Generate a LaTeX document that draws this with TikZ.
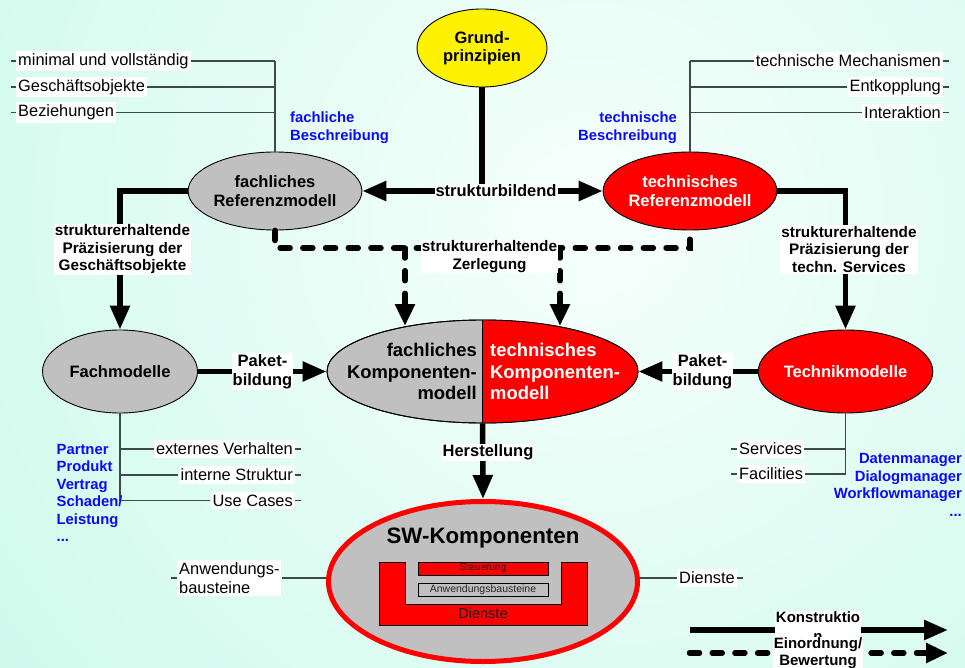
\documentclass[tikz,border=0pt]{standalone}
\usepackage{fontspec}
\setmainfont{Liberation Sans}
\usetikzlibrary{positioning,arrows.meta,shapes.geometric}

\definecolor{bgout}{RGB}{172,246,222}
\definecolor{bgin}{RGB}{246,255,252}
\definecolor{modgray}{RGB}{192,192,192}
\definecolor{linegray}{RGB}{62,74,72}
\definecolor{descblue}{RGB}{10,10,255}

\begin{document}
\begin{tikzpicture}[x=1pt, y=-1pt,
    model/.style={ellipse, draw=black, line width=0.9pt, fill=modgray, inner sep=0pt, align=center, font=\fontsize{16.5}{18.5}\selectfont\bfseries},
    techmodel/.style={model, fill=red, text=white},
    lbl/.style={fill=white, inner sep=1pt, align=center, font=\fontsize{16.5}{19}\selectfont\bfseries},
    lblsm/.style={fill=white, inner sep=1pt, align=center, font=\fontsize{15.3}{17.5}\selectfont\bfseries},
    leaf/.style={fill=white, inner xsep=2pt, inner ysep=2.5pt, align=left, font=\fontsize{16.4}{19}\selectfont},
    desc/.style={inner sep=0pt, text=descblue, font=\fontsize{14.8}{17.5}\selectfont\bfseries},
    thinline/.style={draw=linegray, line width=1.3pt},
    thickline/.style={line width=5.5pt},
    arrow/.style={thickline, -{Triangle[length=24pt, width=19pt]}},
    biarrow/.style={thickline, {Triangle[length=24pt, width=19pt]}-{Triangle[length=24pt, width=19pt]}},
    dashline/.style={thickline, line cap=round, dash pattern=on 10pt off 12.7pt},
    dasharrow/.style={dashline, -{Triangle[length=22pt, width=19pt]}},
]

\useasboundingbox (0,0) rectangle (965,668);

% background
\begin{scope}
  \clip (0,0) rectangle (965,668);
  \shade[inner color=bgin, outer color=bgout] (590,220) circle (1400);
\end{scope}

% === models ===
\node[model, fill=yellow, minimum width=130pt, minimum height=78pt] (grund) at (482,48) {Grund-\\prinzipien};
\node[model, minimum width=156pt, minimum height=78pt] (fachRef) at (275,191) {fachliches\\Referenzmodell};
\node[techmodel, minimum width=156pt, minimum height=78pt] (techRef) at (690,191) {technisches\\Referenzmodell};
\node[model, minimum width=155pt, minimum height=83pt] (fachMod) at (120,371.5) {Fachmodelle};
\node[techmodel, minimum width=155pt, minimum height=83pt] (techMod) at (845.5,371.5) {Technikmodelle};

% component model, left half grey, right half red
\node[model, minimum width=311pt, minimum height=103pt] (komp) at (482.5,371.5) {};
\begin{scope}
  \clip (komp.north) rectangle (700,440);
  \fill[red] (komp.center) ellipse [x radius=155.5, y radius=51.5];
\end{scope}
\draw[line width=0.9pt] (komp.center) ellipse [x radius=155.5, y radius=51.5];
\draw[line width=0.9pt] (komp.center |- 0,320) -- (komp.center |- 0,423);
\node[anchor=east, inner sep=0pt, align=right, font=\fontsize{18.4}{21.5}\selectfont\bfseries] (kompF) at (477,371.5) {fachliches\\Komponenten-\\modell};
\node[anchor=west, inner sep=0pt, align=left, text=white, font=\fontsize{18.4}{21.5}\selectfont\bfseries] (kompT) at (490,371.5) {technisches\\Komponenten-\\modell};

% SW components
\node[ellipse, draw=red, line width=5pt, fill=modgray, inner sep=0pt, minimum width=309pt, minimum height=160pt] (sw) at (483,581.5) {};
\node[font=\fontsize{22.3}{26}\selectfont\bfseries] (swTitle) at (483,538) {SW-Komponenten};
\draw[fill=red, line width=0.9pt] (379,562) -- (405,562) -- (405,604) -- (561,604) -- (561,562)
    -- (587,562) -- (587,625) -- (379,625) -- cycle;
\node[draw, line width=0.9pt, fill=red, minimum width=130pt, minimum height=13pt, inner sep=0pt,
    text=black!90, font=\fontsize{10}{11}\selectfont] (steu) at (483,568.5) {Steuerung};
\node[draw, line width=0.9pt, fill=modgray, minimum width=130pt, minimum height=13pt, inner sep=0pt,
    text=black!85, font=\fontsize{10.5}{11}\selectfont] (anwB) at (483,589.5) {Anwendungsbausteine};
\node[font=\fontsize{14.5}{16}\selectfont, text=black!90] (dienU) at (483,613) {Dienste};

% === leaf lists ===
\node[leaf, anchor=west] (mini)  at (16,61)   {minimal und vollständig};
\node[leaf, anchor=west] (gesch) at (16,87)   {Geschäftsobjekte};
\node[leaf, anchor=west] (bez)   at (16,112.5) {Beziehungen};
\draw[thinline] (fachRef.north) -- (fachRef.north |- mini.east);
\foreach \n in {mini,gesch,bez} {
  \draw[thinline] (\n.east) -- (\n.east -| fachRef.north);
  \draw[thinline] (\n.west) -- ++(-5.5,0);
}

\node[leaf, anchor=east] (mech)  at (943,61)   {technische Mechanismen};
\node[leaf, anchor=east] (entk)  at (943,87)   {Entkopplung};
\node[leaf, anchor=east] (inter) at (943,112.5) {Interaktion};
\draw[thinline] (techRef.north) -- (techRef.north |- mech.west);
\foreach \n in {mech,entk,inter} {
  \draw[thinline] (\n.west) -- (\n.west -| techRef.north);
  \draw[thinline] (\n.east) -- ++(6,0);
}

\node[leaf, anchor=east] (ext)  at (295,449)   {externes Verhalten};
\node[leaf, anchor=east] (intS) at (295,475)   {interne Struktur};
\node[leaf, anchor=east] (useC) at (295,500.5) {Use Cases};
\draw[thinline] (fachMod.south) -- (fachMod.south |- useC.west);
\foreach \n in {ext,intS,useC} {
  \draw[thinline] (\n.west) -- (\n.west -| fachMod.south);
  \draw[thinline] (\n.east) -- ++(6,0);
}

\node[leaf, anchor=west] (serv) at (737,449) {Services};
\node[leaf, anchor=west] (faci) at (737,474) {Facilities};
\draw[thinline] (techMod.south) -- (techMod.south |- faci.east);
\foreach \n in {serv,faci} {
  \draw[thinline] (\n.east) -- (\n.east -| techMod.south);
  \draw[thinline] (\n.west) -- ++(-6,0);
}

\node[leaf, anchor=west] (anw) at (177,578) {Anwendungs-\\bausteine};
\node[leaf, anchor=west] (dien) at (677,578) {Dienste};
\draw[thinline] (anw.east) -- (anw.east -| sw.west);
\draw[thinline] (anw.west) -- ++(-6,0);
\draw[thinline] (dien.west) -- (dien.west -| sw.east);
\draw[thinline] (dien.east) -- ++(6,0);

% blue descriptions
\node[desc, anchor=west, align=left]  (fachBes) at (290,127.7) {fachliche\\Beschreibung};
\node[desc, anchor=east, align=right] (techBes) at (677,127.7) {technische\\Beschreibung};
\node[desc, anchor=west, align=left]  (fachBsp) at (56.5,493) {Partner\\Produkt\\Vertrag\\Schaden/\\Leistung\\...};
\node[desc, anchor=east, align=right] (techBsp) at (962,484.7) {Datenmanager\\Dialogmanager\\Workflowmanager\\...};

% === construction arrows ===
\draw[thickline] (grund.south) -- (grund.south |- fachRef.east);
\draw[biarrow] (fachRef.east) -- (techRef.west);
\draw[arrow] (fachRef.west) -| (fachMod.north);
\draw[arrow] (techRef.east) -| (techMod.north);
\draw[arrow] (fachMod.east) -- (komp.west);
\draw[arrow] (techMod.west) -- (komp.east);
\draw[arrow] (komp.south) -- (sw.north);

% === decomposition (dashed) ===
\coordinate (zl) at (405,248);
\coordinate (zr) at (560,248);
\coordinate (kl) at (405,326);
\coordinate (kr) at (560,326);
\draw[dashline] (fachRef.south) |- (zl) -- (zr) -| (techRef.south);
\draw[dasharrow] (zl) -- (kl);
\draw[dasharrow] (zr) -- (kr);

% === arrow labels ===
\node[lbl] (sb) at (496,191) {strukturbildend};
\node[lblsm] (praeF) at (122.5,249.5) {strukturerhaltende\\Präzisierung der\\Geschäftsobjekte};
\node[lblsm] (praeT) at (849,249.5) {strukturerhaltende\\Präzisierung der\\techn. Services};
\node[lblsm] (zerl) at (489.5,256.5) {strukturerhaltende\\Zerlegung};
\node[lbl] (pakL) at (262.5,371.5) {Paket-\\bildung};
\node[lbl] (pakR) at (702.5,371.5) {Paket-\\bildung};
\node[lbl] (herst) at (488,452.5) {Herstellung};

% === legend ===
\coordinate (legA) at (689.5,630);
\coordinate (legB) at (948,630);
\coordinate (legC) at (689.5,653);
\coordinate (legD) at (948,653);
\draw[arrow] (legA) -- (legB);
\draw[dasharrow] (legC) -- (legD);
\node[lblsm, anchor=north, inner sep=0.5pt, font=\fontsize{15}{19}\selectfont\bfseries] (konstr) at (818,611) {Konstruktio\\n};
\node[lblsm, anchor=north, inner sep=0.5pt, font=\fontsize{15}{17}\selectfont\bfseries] (einord) at (818,636.5) {Einordnung/\\Bewertung};

\end{tikzpicture}
\end{document}
